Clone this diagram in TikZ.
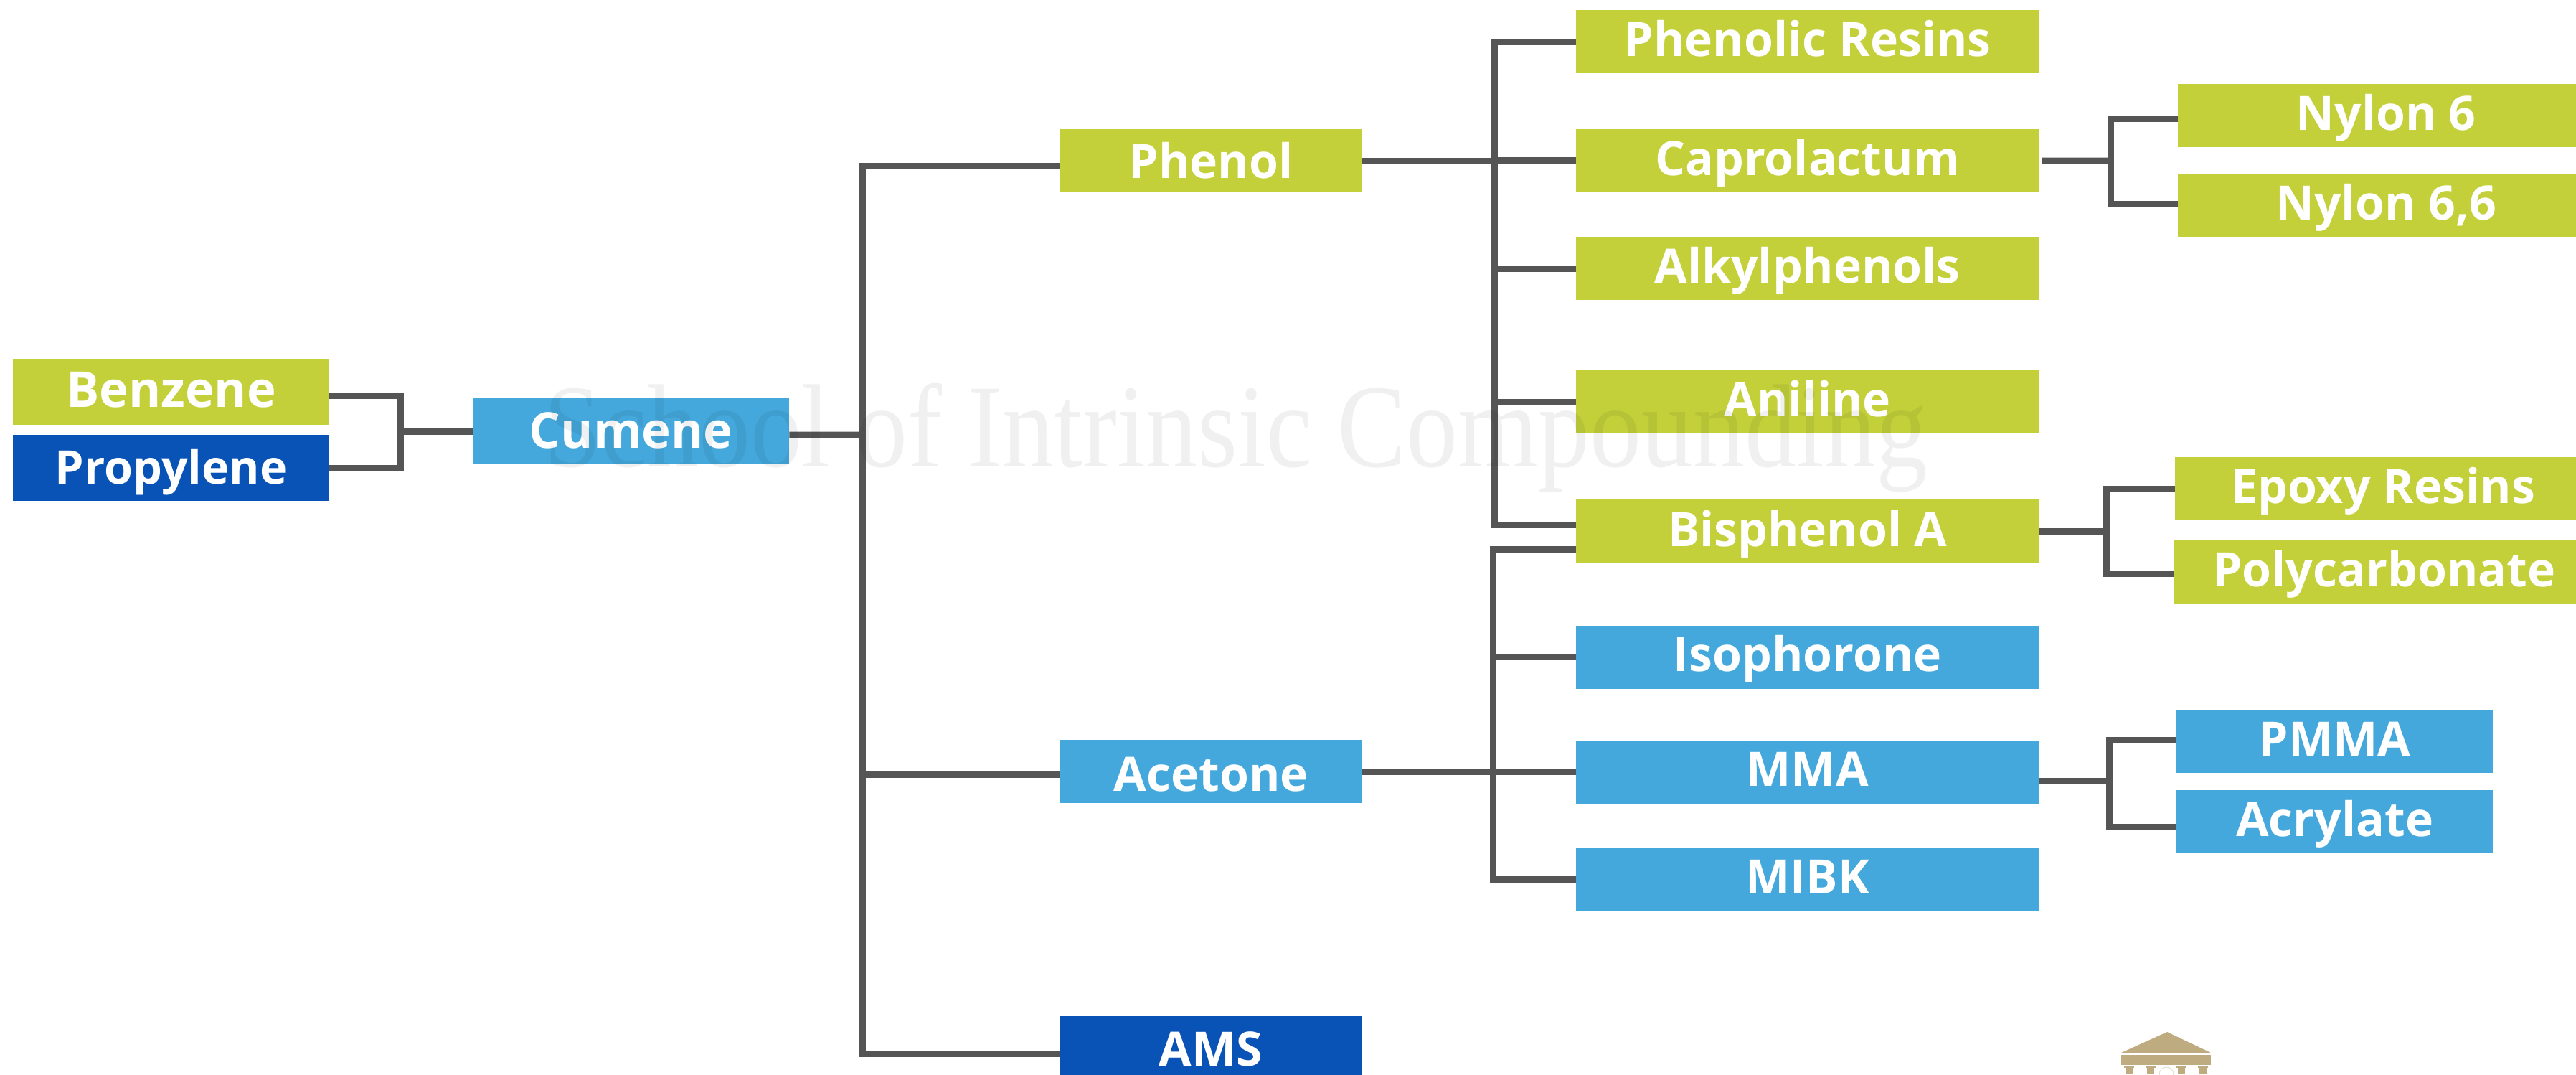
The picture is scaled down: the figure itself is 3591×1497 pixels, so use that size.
\documentclass[tikz,border=0pt]{standalone}
\usepackage{fontspec}
\setmainfont{Open Sans}
\newfontfamily\markfont{Liberation Serif}
\usetikzlibrary{positioning,calc}

\definecolor{lime}{HTML}{C3D03A}
\definecolor{sky}{HTML}{44A8DC}
\definecolor{navy}{HTML}{0952B6}
\definecolor{wire}{HTML}{555555}
\definecolor{sand}{HTML}{BFAB80}

\tikzset{
    chem/.style={minimum height=.88cm, inner sep=0pt, outer sep=0pt, text=white,
        text height=.5cm, text depth=.1cm,
        font=\fontsize{18.8}{24}\selectfont\bfseries},
    small/.style={chem, minimum width=4.41cm},
    feed/.style={small, minimum height=.92cm},
    mid/.style={chem, minimum width=4.22cm},
    wide/.style={chem, minimum width=6.45cm},
    tail/.style={chem, minimum width=5.8cm},
    link/.style={draw=wire, line width=.09cm, line join=miter}
}

\begin{document}
\begin{tikzpicture}[x=.01cm, y=-.01cm]

        \useasboundingbox (0, 0) rectangle (3591, 1497);

        % Feed stocks and the first product
        \begin{scope}
            \node (Benzene) [feed, fill=lime, text height=.52cm, anchor=north west,
                font=\fontsize{19.6}{24}\selectfont\bfseries] at (18, 500) {Benzene};
            \node (Propylene) [feed, fill=navy, text height=.54cm, below=.14cm of Benzene,
                font=\fontsize{18.4}{24}\selectfont\bfseries] {Propylene};
            \node (Cumene) [feed, fill=sky, text height=.57cm, anchor=north west,
                font=\fontsize{19.6}{24}\selectfont\bfseries] at (659, 555) {Cumene};
        \end{scope}

        % Second column
        \begin{scope}
            \node (Phenol) [mid, fill=lime, text height=.58cm, anchor=north west] at (1477, 180) {Phenol};
            \node (Acetone) [mid, fill=sky, text height=.64cm, anchor=north west] at (1477, 1031) {Acetone};
            \node (AMS) [mid, fill=navy, text height=.6cm, anchor=north west] at (1477, 1416) {AMS};
        \end{scope}

        % Third column
        \begin{scope}
            \node (Resins) [wide, fill=lime, anchor=north west] at (2197, 14) {Phenolic Resins};
            \node (Capro) [wide, fill=lime, below=.78cm of Resins] {Caprolactum};
            \node (Alkyl) [wide, fill=lime, below=.62cm of Capro] {Alkylphenols};
            \node (Aniline) [wide, fill=lime, below=.98cm of Alkyl] {Aniline};
            \node (BisA) [wide, fill=lime, text height=.52cm, below=.92cm of Aniline] {Bisphenol A};
            \node (Iso) [wide, fill=sky, below=.87cm of BisA] {Isophorone};
            \node (MMA) [wide, fill=sky, below=.72cm of Iso] {MMA};
            \node (MIBK) [wide, fill=sky, below=.62cm of MMA] {MIBK};
        \end{scope}

        % Last column
        \begin{scope}
            \node (Nylon) [tail, fill=lime, anchor=north west] at (3036, 117) {Nylon 6};
            \node (NylonB) [tail, fill=lime, below=.37cm of Nylon] {Nylon 6,6};
            \node (Epoxy) [tail, fill=lime, anchor=north west] at (3032, 637) {Epoxy Resins};
            \node (Poly) [tail, minimum width=5.86cm, minimum height=.89cm, fill=lime, anchor=north west] at (3030, 753) {Polycarbonate};
            \node (PMMA) [small, fill=sky, anchor=north west] at (3034, 989) {PMMA};
            \node (Acrylate) [small, fill=sky, below=.24cm of PMMA] {Acrylate};
        \end{scope}

        % Bus bars the branches join
        \coordinate (busFeed) at (558, 601);
        \coordinate (busMain) at (1202, 606);
        \coordinate (busPhenol) at (2083, 224);
        \coordinate (busAcetone) at (2081, 1075);
        \coordinate (busCapro) at (2942, 224);
        \coordinate (busBisA) at (2936, 740);
        \coordinate (busMMA) at (2940, 1088);

        \begin{scope}[link]
            \draw ([yshift=-.05cm]Benzene.east) -| (busFeed);
            \draw (Propylene.east) -| (busFeed);
            \draw (busFeed) -- (busFeed -| Cumene.west);

            \draw ([yshift=-.05cm]Cumene.east) -- (busMain);
            \draw ([yshift=-.07cm]Phenol.west) -| (busMain);
            \draw ([yshift=-.04cm]Acetone.west) -| (busMain);
            \draw ([yshift=-.08cm]AMS.west) -| (busMain);

            \draw (Phenol.east) -- (Phenol.east -| busPhenol);
            \draw (busPhenol) -- (busPhenol -| Capro.west);
            \draw (Resins.west) -| (busPhenol);
            \draw (Alkyl.west) -| (busPhenol);
            \draw (Aniline.west) -| (busPhenol);
            \draw ([yshift=.09cm]BisA.west) -| (busPhenol);

            \draw (Acetone.east) -- (Acetone.east -| busAcetone);
            \draw (busAcetone) -- (busAcetone -| MMA.west);
            \draw ([yshift=-.25cm]BisA.west) -| (busAcetone);
            \draw (Iso.west) -| (busAcetone);
            \draw (MIBK.west) -| (busAcetone);

            \draw ([xshift=.04cm]Capro.east) -- (busCapro);
            \draw ([yshift=-.04cm]Nylon.west) -| (busCapro);
            \draw ([yshift=.02cm]NylonB.west) -| (busCapro);

            \draw (BisA.east) -- (BisA.east -| busBisA);
            \draw (Epoxy.west) -| (busBisA);
            \draw ([yshift=-.02cm]Poly.west) -| (busBisA);

            \draw (busMMA -| MMA.east) -- (busMMA);
            \draw ([yshift=.02cm]PMMA.west) -| (busMMA);
            \draw ([yshift=-.07cm]Acrylate.west) -| (busMMA);
        \end{scope}

        % Watermark lies over everything
        \node (Mark) [inner sep=0pt, text=black, text opacity=.06, xscale=.87,
            font=\markfont\fontsize{47}{50}\selectfont, anchor=base] at (1723, 650)
            {School of Intrinsic Compounding};

        % Temple at the foot of the page
        \begin{scope}[fill=sand]
            \fill (2957, 1467) -- (3021, 1438) -- (3082, 1467) -- cycle;
            \fill (2957, 1470) rectangle (3082, 1484);
            \foreach \c in {2968, 2998, 3041, 3071} {
                \fill (\c-7, 1485) rectangle (\c+7, 1488);
                \fill (\c-5, 1488) rectangle (\c+5, 1497);
            }
            \draw[sand!40, line width=.01cm] (3020, 1497) circle (10);
        \end{scope}

        \end{tikzpicture}
\end{document}
